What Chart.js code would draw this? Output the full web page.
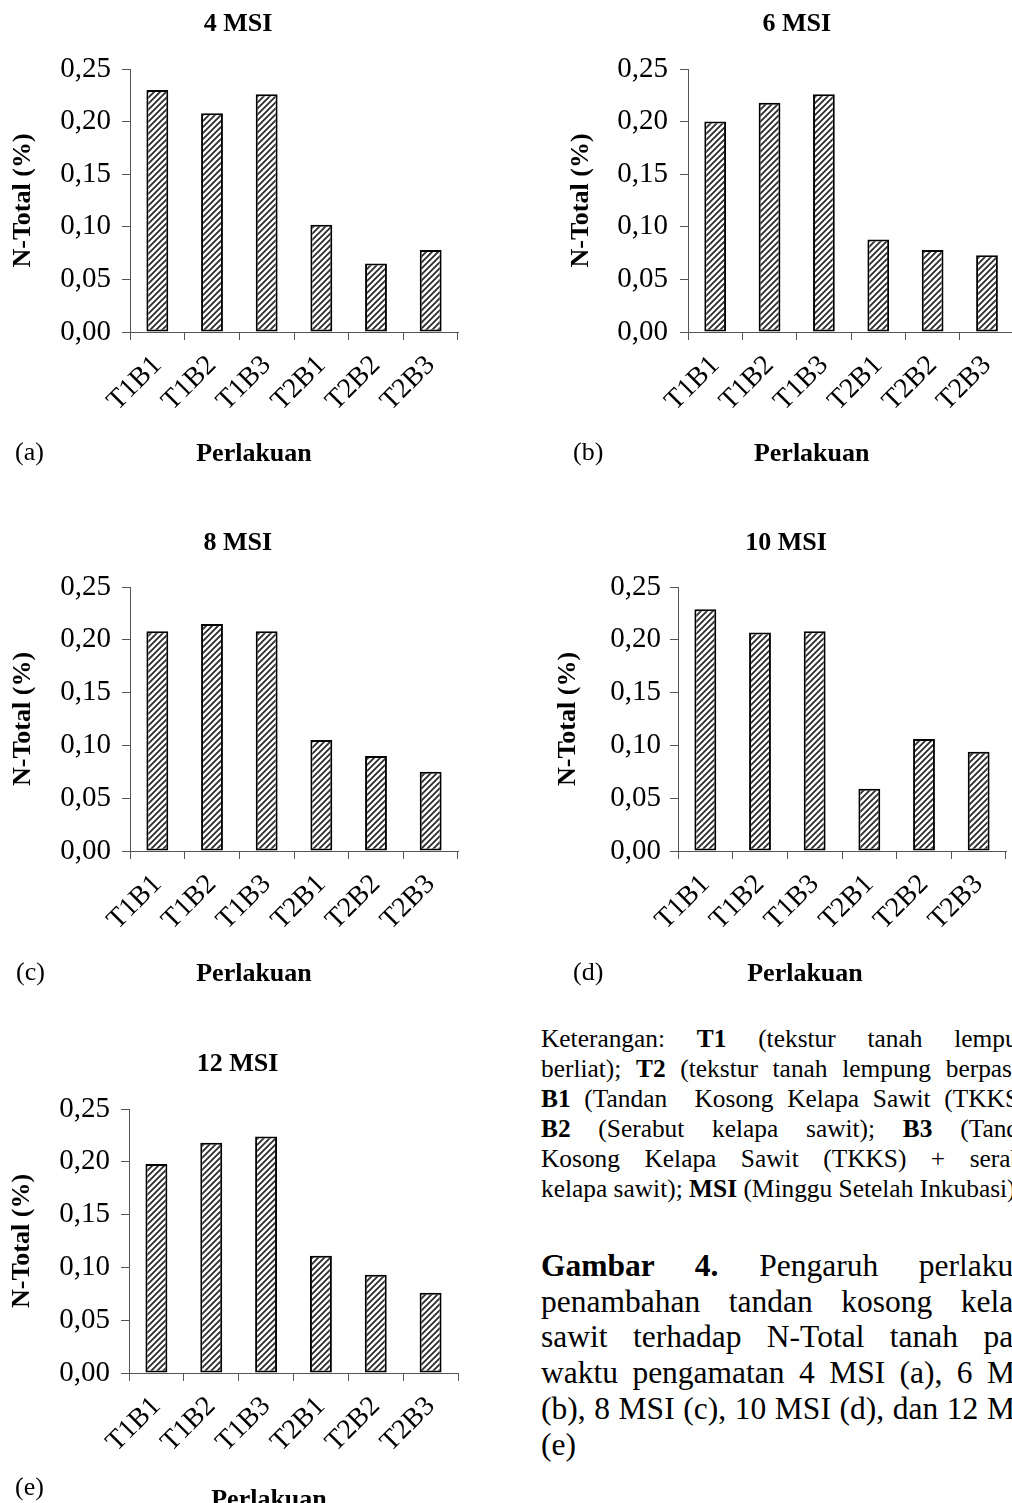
<!DOCTYPE html>
<html>
<head>
<meta charset="utf-8">
<title>N-Total tanah</title>
<script src="https://cdn.jsdelivr.net/npm/chart.js@4.4.1/dist/chart.umd.min.js"></script>
<style>
  html, body { margin: 0; padding: 0; background: #fff; width: 1012px; height: 1503px; overflow: hidden; }
  canvas.panel { position: absolute; display: block; }
  .block { position: absolute; left: 541px; width: 502px; color: #000;
           font-family: "Liberation Serif", "Times New Roman", serif; }
  .block div { text-align: justify; text-align-last: justify; }
  .block div.last { text-align: left; text-align-last: left; }
  #keterangan { top: 1023px; font-size: 25.4px; line-height: 30px; }
  #caption { top: 1248px; font-size: 31.5px; line-height: 35.7px; }
</style>
</head>
<body>
<canvas id="pa" class="panel" width="476" height="480" style="left:0px;top:0px"></canvas>
<canvas id="pb" class="panel" width="480" height="480" style="left:540px;top:0px"></canvas>
<canvas id="pc" class="panel" width="476" height="480" style="left:0px;top:520px"></canvas>
<canvas id="pd" class="panel" width="480" height="480" style="left:540px;top:520px"></canvas>
<canvas id="pe" class="panel" width="476" height="473" style="left:0px;top:1030px"></canvas>

<div id="keterangan" class="block">
  <div>Keterangan: <b>T1</b> (tekstur tanah lempung</div>
  <div>berliat); <b>T2</b> (tekstur tanah lempung berpasir);</div>
  <div><b>B1</b> (Tandan&nbsp; Kosong Kelapa Sawit (TKKS));</div>
  <div><b>B2</b> (Serabut kelapa sawit); <b>B3</b> (Tandan</div>
  <div>Kosong Kelapa Sawit (TKKS) + serabut</div>
  <div class="last">kelapa sawit); <b>MSI</b> (Minggu Setelah Inkubasi)</div>
</div>

<div id="caption" class="block">
  <div><b>Gambar 4.</b> Pengaruh perlakuan</div>
  <div>penambahan tandan kosong kelapa</div>
  <div>sawit terhadap N-Total tanah pada</div>
  <div>waktu pengamatan 4 MSI (a), 6 MSI</div>
  <div>(b), 8 MSI (c), 10 MSI (d), dan 12 MSI</div>
  <div class="last">(e)</div>
</div>

<script>
// Treatments (soil texture T x palm-waste amendment B)
const treatments = ['T1B1', 'T1B2', 'T1B3', 'T2B1', 'T2B2', 'T2B3'];

// N-Total (%) per observation time (MSI = weeks after incubation)
const nTotal4MSI  = [0.230, 0.208, 0.226, 0.102, 0.065, 0.078];
const nTotal6MSI  = [0.200, 0.218, 0.226, 0.088, 0.078, 0.073];
const nTotal8MSI  = [0.208, 0.215, 0.208, 0.105, 0.090, 0.075];
const nTotal10MSI = [0.229, 0.207, 0.208, 0.059, 0.106, 0.094];
const nTotal12MSI = [0.198, 0.218, 0.224, 0.111, 0.093, 0.076];

// Axis ticks and texts
const yTickValues = [0, 0.05, 0.10, 0.15, 0.20, 0.25];
const yTickLabels = ['0,00', '0,05', '0,10', '0,15', '0,20', '0,25'];
const panelTitles = ['4 MSI', '6 MSI', '8 MSI', '10 MSI', '12 MSI'];
const panelLetters = ['(a)', '(b)', '(c)', '(d)', '(e)'];
const xAxisTitle = 'Perlakuan';
const yAxisTitle = 'N-Total (%)';

const FAMILY = '"Liberation Serif", "Times New Roman", serif';

// Diagonal hatch fill for the bars
function makeHatch() {
  const tile = document.createElement('canvas');
  const n = 6;
  tile.width = n; tile.height = n;
  const g = tile.getContext('2d');
  g.fillStyle = '#ffffff';
  g.fillRect(0, 0, n, n);
  g.strokeStyle = '#2b2b2b';
  g.lineWidth = 1.8;
  g.beginPath();
  g.moveTo(-1, n + 1); g.lineTo(n + 1, -1);
  g.moveTo(-1, 1); g.lineTo(1, -1);
  g.moveTo(n - 1, n + 1); g.lineTo(n + 1, n - 1);
  g.stroke();
  return g.createPattern(tile, 'repeat');
}
const hatch = makeHatch();

// Free-standing texts of a panel: title, panel letter, x-axis caption
const panelText = {
  id: 'panelText',
  afterDraw(chart, args, opts) {
    const ctx = chart.ctx;
    ctx.save();
    ctx.fillStyle = '#000';
    ctx.textBaseline = 'alphabetic';
    for (const t of opts.items || []) {
      ctx.font = (t.bold ? 'bold ' : '') + t.size + 'px ' + FAMILY;
      ctx.textAlign = t.align;
      ctx.fillText(t.text, t.x, t.y);
    }
    ctx.restore();
  }
};

// Layout of each panel inside its canvas
const panelLayout = [
  { id: 'pa', plotTop: 69, yWidth: 130, padRight: 18, xHeight: 148, yTitlePad: 7.4, yTickPad: 11,
    titleX: 238, titleY: 30.7, letterX: 15, letterY: 460, capX: 254, capY: 461 },
  { id: 'pb', plotTop: 69, yWidth: 148, padRight: 3, xHeight: 148, yTitlePad: 26, yTickPad: 12,
    titleX: 256.7, titleY: 30.7, letterX: 33, letterY: 460, capX: 271.7, capY: 461 },
  { id: 'pc', plotTop: 67, yWidth: 130, padRight: 18, xHeight: 149, yTitlePad: 7.4, yTickPad: 11,
    titleX: 237.8, titleY: 30, letterX: 16, letterY: 460, capX: 254, capY: 461 },
  { id: 'pd', plotTop: 67, yWidth: 138, padRight: 14, xHeight: 149, yTitlePad: 12.7, yTickPad: 9,
    titleX: 246, titleY: 30, letterX: 33, letterY: 460, capX: 265, capY: 461 },
  { id: 'pe', plotTop: 79, yWidth: 129, padRight: 18, xHeight: 130, yTitlePad: 7, yTickPad: 11,
    titleX: 237.5, titleY: 40.7, letterX: 15, letterY: 465, capX: 269, capY: 477 }
];
const panelValues = [nTotal4MSI, nTotal6MSI, nTotal8MSI, nTotal10MSI, nTotal12MSI];

panelLayout.forEach((p, i) => {
  new Chart(document.getElementById(p.id), {
    type: 'bar',
    data: {
      labels: treatments,
      datasets: [{
        data: panelValues[i],
        backgroundColor: hatch,
        borderColor: '#000',
        borderWidth: 2,
        borderSkipped: false,
        barPercentage: 0.4,
        categoryPercentage: 1
      }]
    },
    options: {
      responsive: false,
      animation: false,
      devicePixelRatio: 1,
      layout: { padding: { left: 0, top: p.plotTop, right: p.padRight, bottom: 0 } },
      plugins: {
        legend: { display: false },
        tooltip: { enabled: false },
        title: { display: false },
        panelText: {
          items: [
            { text: panelTitles[i], x: p.titleX, y: p.titleY, align: 'center', bold: true, size: 26 },
            { text: panelLetters[i], x: p.letterX, y: p.letterY, align: 'left', bold: false, size: 26 },
            { text: xAxisTitle, x: p.capX, y: p.capY, align: 'center', bold: true, size: 26 }
          ]
        }
      },
      scales: {
        x: {
          type: 'category',
          offset: true,
          grid: { offset: true, drawOnChartArea: false, drawTicks: true, tickLength: 8, color: '#555', lineWidth: 1 },
          border: { display: true, color: '#555', width: 1 },
          ticks: { font: { family: FAMILY, size: 28 }, color: '#000', minRotation: 45, maxRotation: 45, autoSkip: false, padding: 9 },
          afterFit: (s) => { s.height = p.xHeight; }
        },
        y: {
          min: 0,
          max: 0.25,
          afterBuildTicks: (s) => { s.ticks = yTickValues.map(v => ({ value: v })); },
          ticks: {
            font: { family: FAMILY, size: 29 }, color: '#000', padding: p.yTickPad,
            callback: (v, idx) => yTickLabels[idx]
          },
          grid: { drawOnChartArea: false, drawTicks: true, tickLength: 8, color: '#555', lineWidth: 1 },
          border: { display: true, color: '#555', width: 1 },
          title: {
            display: true, text: yAxisTitle, color: '#000',
            font: { family: FAMILY, size: 26, weight: 'bold' },
            padding: { top: p.yTitlePad, bottom: 0 }
          },
          afterFit: (s) => { s.width = p.yWidth; }
        }
      }
    },
    plugins: [panelText]
  });
});
</script>
</body>
</html>
